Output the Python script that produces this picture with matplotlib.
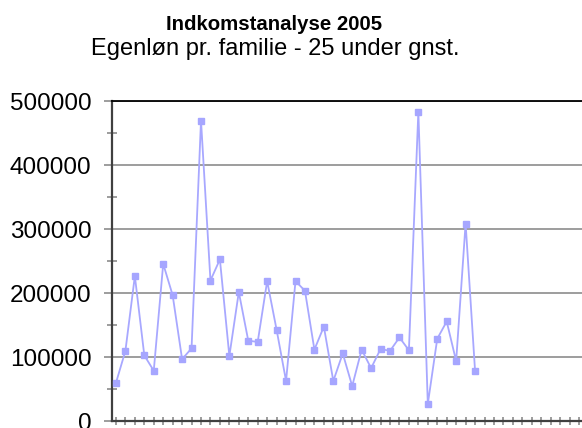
import matplotlib
matplotlib.use('Agg')
import matplotlib.pyplot as plt
from matplotlib.ticker import MultipleLocator

plt.rcParams['font.family'] = ['Liberation Sans', 'DejaVu Sans']

title = 'Indkomstanalyse 2005'
subtitle = 'Egenløn pr. familie - 25 under gnst.'

# one value per family
values = [
    60000, 110000, 227000, 103000, 79000, 246000, 197000, 97000, 114000, 470000,
    220000, 253000, 102000, 202000, 126000, 124000, 219000, 143000, 63000, 219000,
    204000, 112000, 148000, 63000, 106000, 55000, 112000, 83000, 113000, 110000,
    131000, 111000, 484000, 27000, 129000, 156000, 94000, 309000, 79000,
]
n_categories = 51
y_ticks = [0, 100000, 200000, 300000, 400000, 500000]

W, H = 582, 428
fig = plt.figure(figsize=(W / 100, H / 100), dpi=100)

# plot area is cropped on the right and bottom in the original
left_px, bottom_px, top_px = 111.7, 421.3, 101.3
step_px = 9.45
x0, x1 = 0.55, n_categories
width_px = (x1 - x0) * step_px
ax = fig.add_axes([left_px / W, (H - bottom_px) / H, width_px / W, (bottom_px - top_px) / H])

xs = list(range(1, len(values) + 1))
ax.plot(xs, values, color='#A8A8FF', lw=1.3, marker='s', ms=5,
        mfc='#A6A6FF', mec='#A6A6FF', clip_on=False, zorder=3)

ax.set_xlim(x0, x1)
ax.set_ylim(0, 500000)

ax.set_yticks(y_ticks)
ax.set_yticklabels([str(v) for v in y_ticks])
ax.yaxis.set_minor_locator(MultipleLocator(50000))
ax.set_xticks(range(1, n_categories + 1))
ax.set_xticklabels([])

ax.grid(axis='y', which='major', color='#8C8C8C', lw=1.2)
ax.set_axisbelow(True)

for s in ['left', 'bottom']:
    ax.spines[s].set_color('#404040')
    ax.spines[s].set_linewidth(1.6)
ax.spines['right'].set_visible(False)
ax.spines['top'].set_color('black')
ax.spines['top'].set_linewidth(1.3)

ax.tick_params(axis='y', which='major', direction='out', length=5.5, width=1.2,
               color='#8C8C8C', labelsize=17.5, pad=9, labelcolor='black')
ax.tick_params(axis='y', which='minor', direction='inout', length=7, width=1.2,
               color='#8C8C8C')
ax.tick_params(axis='x', which='major', direction='inout', length=6, width=1.2,
               color='#8C8C8C')

fig.text(274 / W, 1 - 30 / H, title, ha='center', va='baseline',
         fontsize=14.7, fontweight='bold')
fig.text(275 / W, 1 - 55 / H, subtitle, ha='center', va='baseline', fontsize=17)

fig.savefig('out.png', dpi=100)
